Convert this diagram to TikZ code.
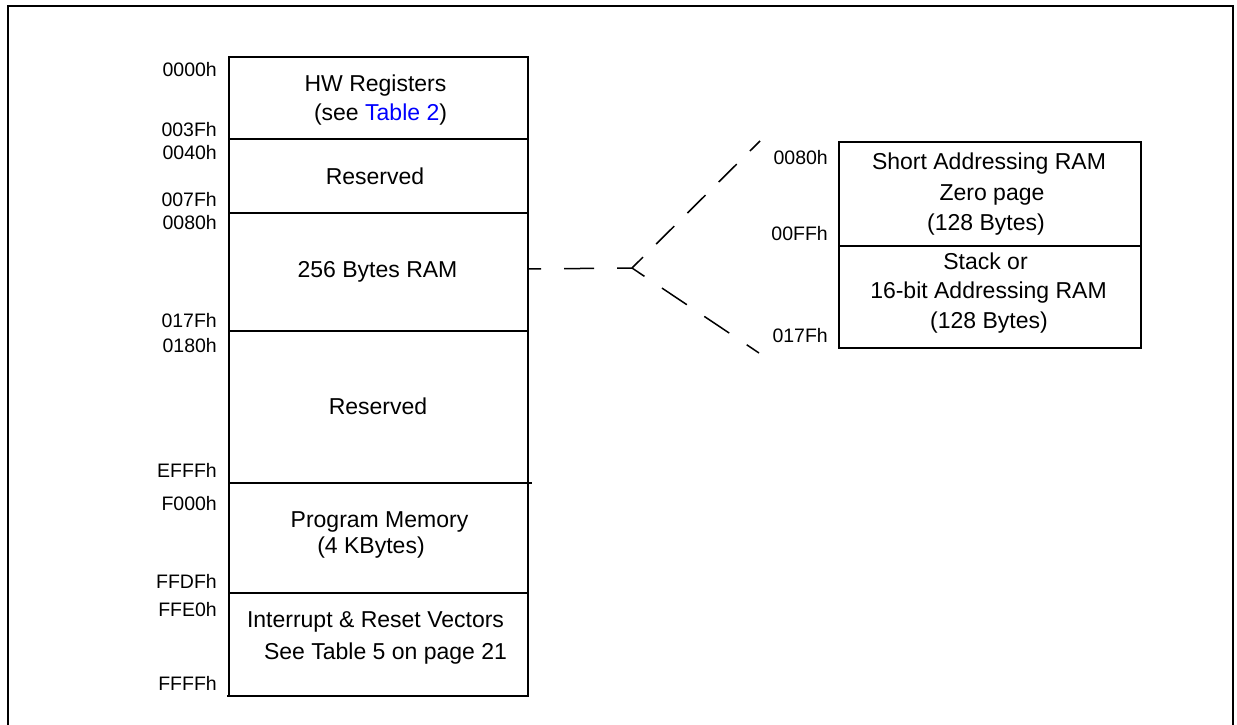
\documentclass[tikz,border=0pt]{standalone}
\usepackage{fontspec}
\setmainfont{Liberation Sans}
\begin{document}
\begin{tikzpicture}[x=1pt,y=-1pt,
  box/.style={draw, line width=1.5pt, inner sep=0pt, minimum width=299pt},
  rbox/.style={draw, line width=1.5pt, inner sep=0pt, minimum width=302pt},
  lbl/.style={anchor=base east, inner sep=0pt, font=\fontsize{19.5}{23}\selectfont},
  txt/.style={anchor=base, inner sep=0pt, font=\fontsize{23}{28}\selectfont},
  dsh/.style={line width=1.5pt}]
\useasboundingbox (0,0) rectangle (1237,725);
% outer frame
\draw[line width=2pt] (8,740) -- (8,6) -- (1233,6) -- (1233,740);

% left memory map
\node[box, minimum height=82pt]  (hw)   at (378.5,98)  {};
\node[box, minimum height=74pt]  (res1) at (378.5,176) {};
\node[box, minimum height=118pt] (ram)  at (378.5,272) {};
\node[box, minimum height=152pt] (res2) at (378.5,407) {};
\node[box, minimum height=110pt] (prog) at (378.5,538) {};
\node[box, minimum height=103pt] (vec)  at (378.5,644.5) {};
\draw[line width=1.5pt] (528,483) -- (532,483);
\draw[line width=1.5pt] (227,696) -- (229,696);

\node[txt] (t1) at (375.5,91.7) {HW Registers};
\node[txt] (t2) at (380.5,120) {(see \textcolor{blue}{Table 2})};
\node[txt] (t3) at (375,184) {Reserved};
\node[txt] (t4) at (377.5,277) {256 Bytes RAM};
\node[txt] (t5) at (378,414) {Reserved};
\node[txt] (t6) at (379.5,527) {Program Memory};
\node[txt] (t7) at (371,553) {(4 KBytes)};
\node[txt] (t8) at (375.5,627) {Interrupt \& Reset Vectors};
\node[txt] (t9) at (385.5,659) {See Table 5 on page 21};

\node[lbl] (a1)  at (217,76.7) {0000h};
\node[lbl] (a2)  at (217,136)  {003Fh};
\node[lbl] (a3)  at (217,159)  {0040h};
\node[lbl] (a4)  at (217,206)  {007Fh};
\node[lbl] (a5)  at (217,229)  {0080h};
\node[lbl] (a6)  at (217,327)  {017Fh};
\node[lbl] (a7)  at (217,352)  {0180h};
\node[lbl] (a8)  at (217,477)  {EFFFh};
\node[lbl] (a9)  at (217,510)  {F000h};
\node[lbl] (a10) at (217,588)  {FFDFh};
\node[lbl] (a11) at (217,616)  {FFE0h};
\node[lbl] (a12) at (217,690)  {FFFFh};

% right zoomed RAM
\node[rbox, minimum height=104pt] (zp)  at (990,194) {};
\node[rbox, minimum height=102pt] (stk) at (990,297) {};

\node[txt] (r1) at (989,169) {Short Addressing RAM};
\node[txt] (r2) at (992,200) {Zero page};
\node[txt] (r3) at (986,230) {(128 Bytes)};
\node[txt] (r4) at (985.5,269) {Stack or};
\node[txt] (r5) at (988.5,298) {16-bit Addressing RAM};
\node[txt] (r6) at (989,328) {(128 Bytes)};

\node[lbl] (b1) at (828,164) {0080h};
\node[lbl] (b2) at (828,240) {00FFh};
\node[lbl] (b3) at (828,342) {017Fh};

% dashed zoom connectors
\coordinate (fork) at (632,268);
\coordinate (ramE) at (528,269);
\coordinate (topE) at (760,141);
\coordinate (botE) at (759,353);
\draw[dsh, dash pattern=on 30pt off 23pt, dash phase=15pt] (fork) -- (ramE);
\draw[dsh, dash pattern=on 25.5pt off 18.5pt, dash phase=10pt] (fork) -- (topE);
\draw[dsh, dash pattern=on 30pt off 21pt, dash phase=15pt] (fork) -- (botE);
\end{tikzpicture}
\end{document}
